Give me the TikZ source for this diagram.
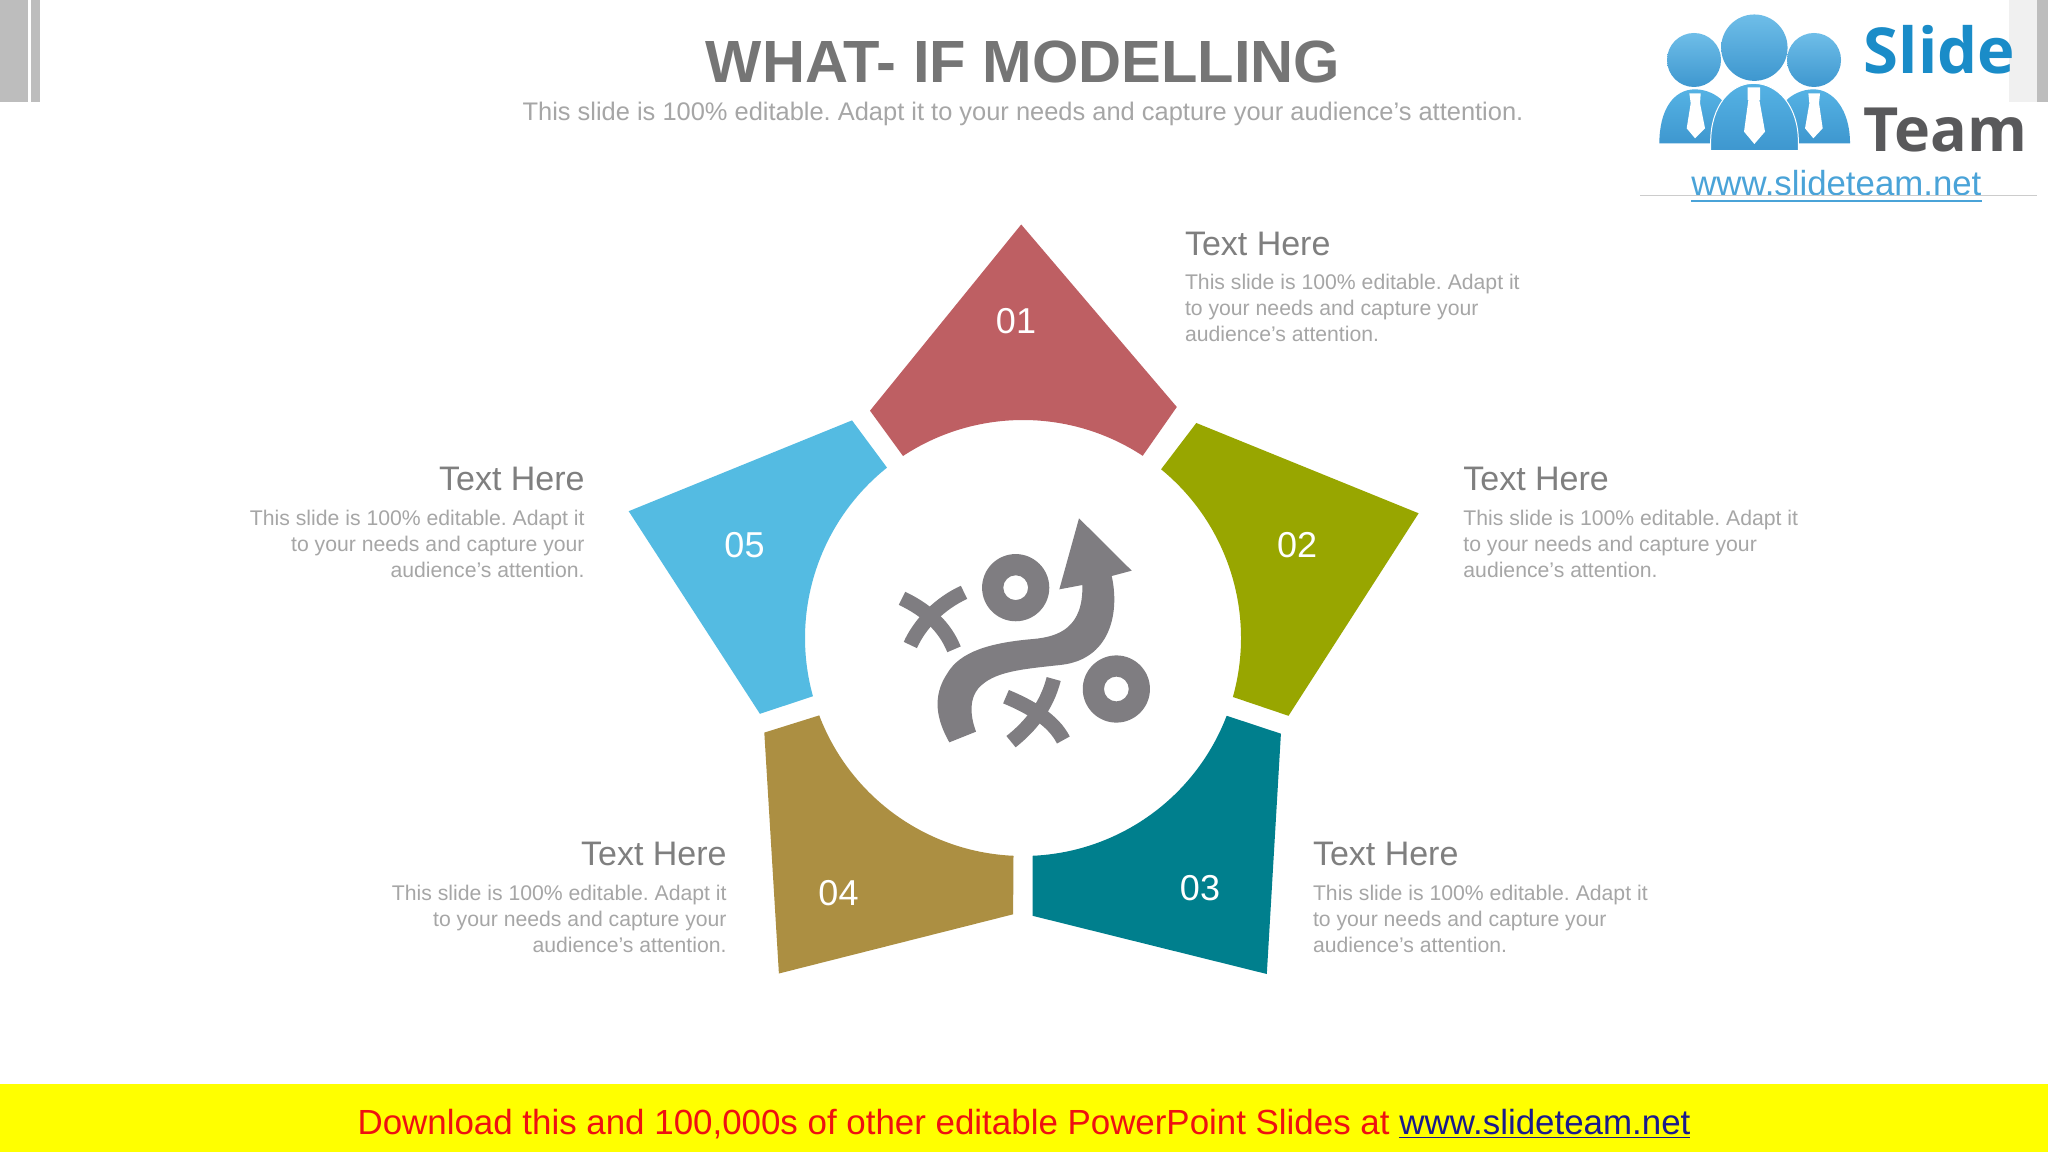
\documentclass[tikz,border=0pt]{standalone}
\usepackage{fontspec}
\setmainfont{Liberation Sans}
\newfontfamily\logofont{Open Sans}
\usetikzlibrary{calc}
\definecolor{pRed}{HTML}{BE5F63}
\definecolor{pOlive}{HTML}{98A600}
\definecolor{pTeal}{HTML}{007F8D}
\definecolor{pTan}{HTML}{AC8F42}
\definecolor{pBlue}{HTML}{54BBE2}
\definecolor{iconGray}{HTML}{7F7D81}
\definecolor{headGray}{HTML}{7F7F7F}
\definecolor{bodyGray}{HTML}{A6A6A6}
\definecolor{titleGray}{HTML}{757575}
\definecolor{barGray}{HTML}{BDBDBD}
\definecolor{paleBar}{HTML}{F0F0F0}
\definecolor{logoBlue}{HTML}{55B2E4}
\definecolor{logoDeep}{HTML}{3E97CF}
\definecolor{slideBlue}{HTML}{1A8CC8}
\definecolor{teamGray}{HTML}{59595B}
\definecolor{urlBlue}{HTML}{4AA3D8}
\definecolor{bannerYellow}{HTML}{FFFF00}
\definecolor{bannerRed}{HTML}{EE1111}
\definecolor{bannerLink}{HTML}{1A1A8C}
\newcommand{\fs}[1]{\fontsize{#1}{#1}\selectfont}
\frenchspacing
\tikzset{
  numlabel/.style={text=white,inner sep=0pt,font=\fs{18}},
  headL/.style={text=headGray,inner sep=0pt,anchor=west,font=\fs{17}},
  headR/.style={text=headGray,inner sep=0pt,anchor=east,font=\fs{17}},
  descL/.style={text=bodyGray,inner sep=0pt,anchor=west,align=left,font=\fontsize{10.6}{13}\selectfont},
  descR/.style={text=bodyGray,inner sep=0pt,anchor=east,align=right,font=\fontsize{10.6}{13}\selectfont},
  xstroke/.style={draw=iconGray,line width=7.3pt,line cap=butt},
}
\begin{document}
\begin{tikzpicture}[x=0.5pt,y=0.5pt]
\useasboundingbox (0,0) rectangle (2048,1152);
\fill[white] (0,0) rectangle (2048,1152);
\coordinate (c) at (1023,514);
% corner bars
\fill[barGray] (0,1050) rectangle (28,1152);
\fill[barGray] (31,1050) rectangle (40,1152);
% title
\node[text=titleGray,inner sep=0pt,font=\fs{29.8}\bfseries] (title) at (1023,1090) {WHAT- IF MODELLING};
\node[text=bodyGray,inner sep=0pt,font=\fs{12.72}] (subtitle) at (1023,1038.5) {This slide is 100\% editable. Adapt it to your needs and capture your audience's attention.};
% petals
\fill[pRed] (1021.2,927.5) -- (1176.8,745) -- ($(c)+(56.7:109pt)$) arc[start angle=56.7,end angle=123.4,radius=109pt] -- (870,741.3) -- cycle;
\fill[pOlive] (1196.3,729) -- (1418.6,638.7) -- (1288.5,436.2) -- ($(c)+(-15.7:109pt)$) arc[start angle=-15.7,end angle=50.7,radius=109pt] -- cycle;
\fill[pTeal] ($(c)+(-20.9:109pt)$) -- (1280.9,418.3) -- (1266.8,178) -- (1032.6,236.2) -- ($(c)+(-87.5:109pt)$) arc[start angle=-87.5,end angle=-20.9,radius=109pt] -- cycle;
\fill[pTan] ($(c)+(200.8:109pt)$) -- (764.3,419.4) -- (778.9,178.5) -- (1013.1,237.7) -- ($(c)+(267.5:109pt)$) arc[start angle=267.5,end angle=200.8,radius=109pt] -- cycle;
\fill[pBlue] (852,731.6) -- ($(c)+(128.6:109pt)$) arc[start angle=128.6,end angle=195.5,radius=109pt] -- (759.9,438.2) -- (628.7,640.8) -- cycle;
% numbers
\node[numlabel] (n1) at (1016,831) {01};
\node[numlabel] (n2) at (1297,607) {02};
\node[numlabel] (n3) at (1200,264) {03};
\node[numlabel] (n4) at (838.5,259) {04};
\node[numlabel] (n5) at (744.5,607) {05};
% texts
\node[headL] (h1) at (1184.6,908) {Text Here};
\node[descL] (d1) at (1184.6,844) {This slide is 100\% editable. Adapt it\\to your needs and capture your\\audience's attention.};
\node[headL] (h2) at (1463,673) {Text Here};
\node[descL] (d2) at (1463,608) {This slide is 100\% editable. Adapt it\\to your needs and capture your\\audience's attention.};
\node[headL] (h3) at (1312.6,298) {Text Here};
\node[descL] (d3) at (1312.6,233) {This slide is 100\% editable. Adapt it\\to your needs and capture your\\audience's attention.};
\node[headR] (h4) at (727,298) {Text Here};
\node[descR] (d4) at (727,233) {This slide is 100\% editable. Adapt it\\to your needs and capture your\\audience's attention.};
\node[headR] (h5) at (585,673) {Text Here};
\node[descR] (d5) at (585,608) {This slide is 100\% editable. Adapt it\\to your needs and capture your\\audience's attention.};
% icon
\begin{scope}[shift={(860,662)},x=0.16667pt,y=-0.16667pt]
\fill[iconGray] (268,757) .. controls (230,690) and (215,620) .. (262,550) .. controls (300,485) and (390,458) .. (520,447) .. controls (600,440) and (670,410) .. (667,285) -- (598,298) -- (657,85) -- (815,242) -- (755,258) .. controls (780,370) and (750,510) .. (600,525) .. controls (480,538) and (400,545) .. (355,595) .. controls (330,625) and (328,670) .. (348,725) -- cycle;
\fill[iconGray,even odd rule] (467,293) circle[radius=16.8pt] (467,293) circle[radius=6.2pt];
\fill[iconGray,even odd rule] (769,597) circle[radius=16.8pt] (769,597) circle[radius=6.2pt];
\draw[xstroke] (126,325) .. controls (200,360) and (255,410) .. (282,478);
\draw[xstroke] (312,307) .. controls (240,340) and (180,400) .. (151,465);
\draw[xstroke] (438,620) .. controls (510,650) and (580,690) .. (610,750);
\draw[xstroke] (581,567) .. controls (560,650) and (510,710) .. (453,755);
\end{scope}
% logo
\fill[white] (1637,952) rectangle (2048,1152);
\fill[paleBar] (2009,1050) rectangle (2037,1152);
\fill[barGray] (2037,1050) rectangle (2048,1152);
\begin{scope}[shift={(1620,1152)},x=0.16667pt,y=-0.16667pt]
\shade[top color=logoBlue,bottom color=logoDeep] (118,430) .. controls (118,330) and (160,268) .. (225,268) .. controls (260,268) and (290,285) .. (305,300) -- (272,430) -- cycle;
\shade[top color=logoBlue,bottom color=logoDeep] (690,430) .. controls (690,330) and (640,268) .. (580,268) .. controls (545,268) and (515,285) .. (500,300) -- (535,430) -- cycle;
\shade[top color=logoBlue,bottom color=logoDeep,draw=white,line width=0.5pt] (272,452) -- (272,425) .. controls (272,320) and (330,250) .. (400,250) .. controls (475,250) and (535,320) .. (535,425) -- (535,452) -- cycle;
\shade[top color=logoBlue!85!white,bottom color=logoDeep] (222,180) circle[radius=13.5pt];
\shade[top color=logoBlue!85!white,bottom color=logoDeep] (582,180) circle[radius=13.5pt];
\shade[top color=logoBlue!85!white,bottom color=logoDeep] (403,143) circle[radius=16.6pt];
\fill[white] (383,262) -- (420,262) -- (420,300) -- (418,300) -- (435,395) -- (403,432) -- (372,395) -- (385,300) -- (383,300) -- cycle;
\fill[white] (208,280) -- (242,280) -- (240,310) -- (255,385) -- (225,415) -- (200,385) -- (212,310) -- cycle;
\fill[white] (565,280) -- (600,280) -- (597,310) -- (608,385) -- (580,415) -- (555,385) -- (568,310) -- cycle;
\node[inner sep=0pt,anchor=west,text=slideBlue,font=\logofont\fs{31.7}\bfseries] (slide) at (730,150) {Slide};
\node[inner sep=0pt,anchor=west,text=teamGray,font=\logofont\fs{30.5}\bfseries] (team) at (730,390) {Team};
\node[inner sep=0pt,text=urlBlue,font=\fs{17.4}] (url) at (649,550) {www.slideteam.net};
\draw[urlBlue,line width=1pt] (213,602) -- (1087,602);
\draw[black!20,line width=0.5pt] (60,586) -- (1250,586);
\end{scope}
% banner
\fill[bannerYellow] (0,0) rectangle (2048,68);
\node[inner sep=0pt,font=\fs{17.45}] (banner) at (1024,28) {\textcolor{bannerRed}{Download this and 100,000s of other editable PowerPoint Slides at }\textcolor{bannerLink}{\underline{www.slideteam.net}}};
\end{tikzpicture}
\end{document}
